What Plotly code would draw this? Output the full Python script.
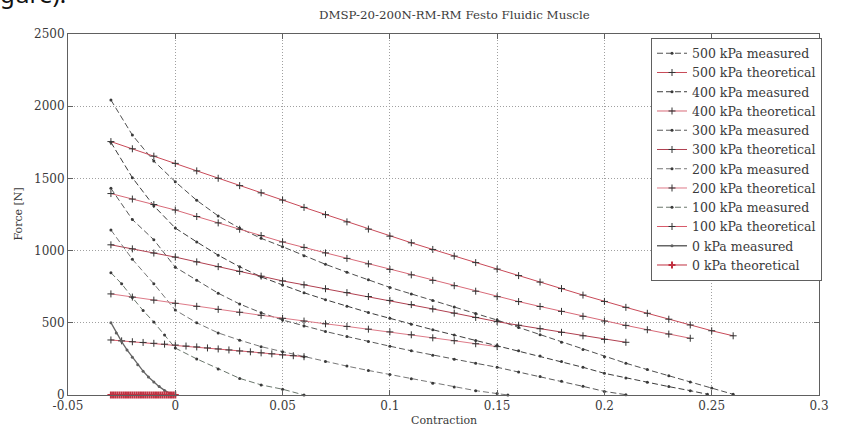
import plotly.graph_objects as go

# ---- Contraction (x, dimensionless) and force (N) for every pressure level ----
# Measured curves
x_500_meas = [-0.03, -0.02, -0.01, 0.0, 0.01, 0.02, 0.03, 0.04, 0.05, 0.06, 0.07, 0.08, 0.09, 0.10,
              0.11, 0.12, 0.13, 0.14, 0.15, 0.16, 0.17, 0.18, 0.19, 0.20, 0.21, 0.22, 0.23, 0.24, 0.25, 0.26]
F_500_meas = [2043, 1800, 1620, 1477, 1348, 1240, 1155, 1085, 1027, 965, 905, 850, 798, 745,
              700, 655, 610, 565, 519, 468, 418, 366, 315, 265, 220, 176, 133, 90, 48, 5]

x_400_meas = [-0.03, -0.02, -0.01, 0.0, 0.01, 0.02, 0.03, 0.04, 0.05, 0.06, 0.07, 0.08, 0.09, 0.10,
              0.11, 0.12, 0.13, 0.14, 0.15, 0.16, 0.17, 0.18, 0.19, 0.20, 0.21, 0.22, 0.23, 0.24, 0.248]
F_400_meas = [1750, 1505, 1310, 1156, 1060, 968, 888, 818, 762, 708, 660, 614, 571, 531,
              490, 452, 415, 378, 342, 306, 270, 232, 192, 150, 118, 88, 58, 30, 5]

x_300_meas = [-0.03, -0.02, -0.01, 0.0, 0.01, 0.02, 0.03, 0.04, 0.05, 0.06, 0.07, 0.08, 0.09, 0.10,
              0.11, 0.12, 0.13, 0.14, 0.15, 0.16, 0.17, 0.18, 0.19, 0.20, 0.21]
F_300_meas = [1431, 1215, 1075, 885, 795, 705, 630, 570, 519, 478, 440, 405, 370, 338,
              306, 276, 247, 220, 192, 160, 128, 95, 60, 25, 2]

x_200_meas = [-0.03, -0.02, -0.01, 0.0, 0.01, 0.02, 0.03, 0.04, 0.05, 0.06, 0.07, 0.08, 0.09, 0.10,
              0.11, 0.12, 0.13, 0.14, 0.15, 0.155]
F_200_meas = [1143, 940, 770, 588, 500, 430, 380, 335, 300, 265, 232, 200, 170, 142,
              112, 82, 55, 30, 10, 0]

x_100_meas = [-0.03, -0.025, -0.02, -0.015, -0.01, -0.005, 0.0, 0.01, 0.02, 0.03, 0.04, 0.05, 0.06]
F_100_meas = [847, 770, 675, 585, 505, 415, 325, 250, 180, 115, 70, 40, 0]

x_0_meas = [-0.03, -0.0275, -0.025, -0.0225, -0.02, -0.0175, -0.015, -0.0125, -0.01, -0.0075,
            -0.005, -0.0025, 0.0]
F_0_meas = [501, 430, 370, 312, 262, 210, 165, 125, 90, 58, 32, 12, 0]

# Theoretical curves
x_500_theo = [-0.03, -0.02, -0.01, 0.0, 0.01, 0.02, 0.03, 0.04, 0.05, 0.06, 0.07, 0.08, 0.09, 0.10,
              0.11, 0.12, 0.13, 0.14, 0.15, 0.16, 0.17, 0.18, 0.19, 0.20, 0.21, 0.22, 0.23, 0.24,
              0.25, 0.26]
F_500_theo = [1755, 1705, 1654, 1604, 1552, 1501, 1450, 1400, 1350, 1299, 1249, 1199, 1149, 1100,
              1054, 1008, 962, 917, 872, 827, 782, 737, 692, 648, 607, 566, 525, 485, 445, 410]

x_400_theo = [-0.03, -0.02, -0.01, 0.0, 0.01, 0.02, 0.03, 0.04, 0.05, 0.06, 0.07, 0.08, 0.09, 0.10,
              0.11, 0.12, 0.13, 0.14, 0.15, 0.16, 0.17, 0.18, 0.19, 0.20, 0.21, 0.22, 0.23, 0.24]
F_400_theo = [1395, 1357, 1319, 1281, 1236, 1192, 1148, 1104, 1060, 1022, 984, 946, 908, 870,
              832, 794, 757, 719, 681, 647, 613, 579, 545, 512, 482, 452, 422, 393]

x_300_theo = [-0.03, -0.02, -0.01, 0.0, 0.01, 0.02, 0.03, 0.04, 0.05, 0.06, 0.07, 0.08, 0.09, 0.10,
              0.11, 0.12, 0.13, 0.14, 0.15, 0.16, 0.17, 0.18, 0.19, 0.20, 0.21]
F_300_theo = [1040, 1012, 983, 955, 922, 889, 856, 823, 790, 763, 736, 709, 682, 655,
              626, 596, 567, 537, 508, 483, 459, 434, 410, 385, 365]

x_200_theo = [-0.03, -0.02, -0.01, 0.0, 0.01, 0.02, 0.03, 0.04, 0.05, 0.06, 0.07, 0.08, 0.09, 0.10,
              0.11, 0.12, 0.13, 0.14, 0.15]
F_200_theo = [700, 678, 657, 635, 614, 593, 573, 552, 531, 512, 493, 475, 456, 437,
              417, 396, 376, 355, 335]

x_100_theo = [-0.03, -0.025, -0.02, -0.015, -0.01, -0.005, 0.0, 0.005, 0.01, 0.015, 0.02, 0.025,
              0.03, 0.035, 0.04, 0.045, 0.05, 0.055, 0.06]
F_100_theo = [381, 375, 369, 364, 358, 352, 346, 339, 333, 326, 319, 312,
              305, 299, 292, 285, 278, 272, 265]

x_0_theo = [-0.030, -0.029, -0.028, -0.027, -0.026, -0.025, -0.024, -0.023, -0.022, -0.021,
            -0.020, -0.019, -0.018, -0.017, -0.016, -0.015, -0.014, -0.013, -0.012, -0.011,
            -0.010, -0.009, -0.008, -0.007, -0.006, -0.005, -0.004, -0.003, -0.002, -0.001, 0.0]
F_0_theo = [0, 0, 0, 0, 0, 0, 0, 0, 0, 0,
            0, 0, 0, 0, 0, 0, 0, 0, 0, 0,
            0, 0, 0, 0, 0, 0, 0, 0, 0, 0, 0]

x_ticks = [-0.05, 0.0, 0.05, 0.1, 0.15, 0.2, 0.25, 0.3]
x_tick_text = ["-0.05", "0", "0.05", "0.1", "0.15", "0.2", "0.25", "0.3"]
y_ticks = [0, 500, 1000, 1500, 2000, 2500]

series = [
    ("500 kPa measured", x_500_meas, F_500_meas, "meas", "#505050"),
    ("500 kPa theoretical", x_500_theo, F_500_theo, "theo", "#c84a58"),
    ("400 kPa measured", x_400_meas, F_400_meas, "meas", "#3c3c3c"),
    ("400 kPa theoretical", x_400_theo, F_400_theo, "theo", "#d86a78"),
    ("300 kPa measured", x_300_meas, F_300_meas, "meas", "#5a5a5a"),
    ("300 kPa theoretical", x_300_theo, F_300_theo, "theo", "#b04050"),
    ("200 kPa measured", x_200_meas, F_200_meas, "meas", "#787878"),
    ("200 kPa theoretical", x_200_theo, F_200_theo, "theo", "#de7a88"),
    ("100 kPa measured", x_100_meas, F_100_meas, "meas", "#6a766c"),
    ("100 kPa theoretical", x_100_theo, F_100_theo, "theo", "#d85a6a"),
    ("0 kPa measured", x_0_meas, F_0_meas, "meas0", "#666666"),
    ("0 kPa theoretical", x_0_theo, F_0_theo, "theo0", "#c03040"),
]

SERIF = "'DejaVu Serif', serif"
TXT = "#3a3a3a"

fig = go.Figure()
for name, xs, ys, kind, color in series:
    if kind == "meas":
        line = dict(color=color, width=1, dash="6px,3px")
        marker = dict(symbol="circle", size=3, color="#3a3a3a")
    elif kind == "meas0":
        line = dict(color=color, width=1.3)
        marker = dict(symbol="circle", size=3, color="#606060")
    elif kind == "theo":
        line = dict(color=color, width=1)
        marker = dict(symbol="cross-thin", size=5, line=dict(width=1, color="#333333"))
    else:
        line = dict(color=color, width=1)
        marker = dict(symbol="cross-thin", size=5, line=dict(width=2, color="#c03040"))
    fig.add_trace(go.Scatter(x=xs, y=ys, mode="lines+markers", name=name,
                             line=line, marker=marker, cliponaxis=False))

axis_common = dict(
    showline=True, linecolor="#606060", linewidth=1, mirror="ticks",
    ticks="inside", ticklen=5, tickcolor="#606060",
    showgrid=True, gridcolor="#a0a0a0", gridwidth=1, griddash="1px,2px",
    zeroline=False, tickfont=dict(family=SERIF, size=12, color=TXT),
)

fig.update_xaxes(range=[-0.05, 0.3], tickvals=x_ticks, ticktext=x_tick_text, **axis_common)
fig.update_yaxes(range=[0, 2500], tickvals=y_ticks, **axis_common)

fig.update_layout(
    width=841, height=432,
    margin=dict(l=68, r=14, t=34, b=37),
    paper_bgcolor="white", plot_bgcolor="white",
    showlegend=True,
    legend=dict(
        x=1.004, y=0.99, xanchor="right", yanchor="top",
        bgcolor="white", bordercolor="#606060", borderwidth=1,
        font=dict(family=SERIF, size=12.5, color=TXT),
        tracegroupgap=0, itemwidth=30,
    ),
    annotations=[
        dict(text="DMSP-20-200N-RM-RM Festo Fluidic Muscle", xref="paper", yref="paper",
             x=0.5, xshift=11, y=1.0, yshift=19, xanchor="center", yanchor="middle",
             showarrow=False, font=dict(family=SERIF, size=11.8, color=TXT)),
        dict(text="Contraction", xref="paper", yref="paper", x=0.5, y=0, yshift=-25,
             xanchor="center", yanchor="middle", showarrow=False,
             font=dict(family=SERIF, size=11, color=TXT)),
        dict(text="Force [N]", xref="paper", yref="paper", x=0, xshift=-50, y=0.5,
             xanchor="center", yanchor="middle", textangle=-90, showarrow=False,
             font=dict(family=SERIF, size=11, color=TXT)),
        dict(text="gure).", xref="paper", yref="paper", x=0, xshift=-69, y=1.0, yshift=23,
             xanchor="left", yanchor="bottom", showarrow=False, borderpad=0,
             font=dict(family="Noto Sans, sans-serif", size=24, color="#111111")),
    ],
)

fig.write_html("out.html")
